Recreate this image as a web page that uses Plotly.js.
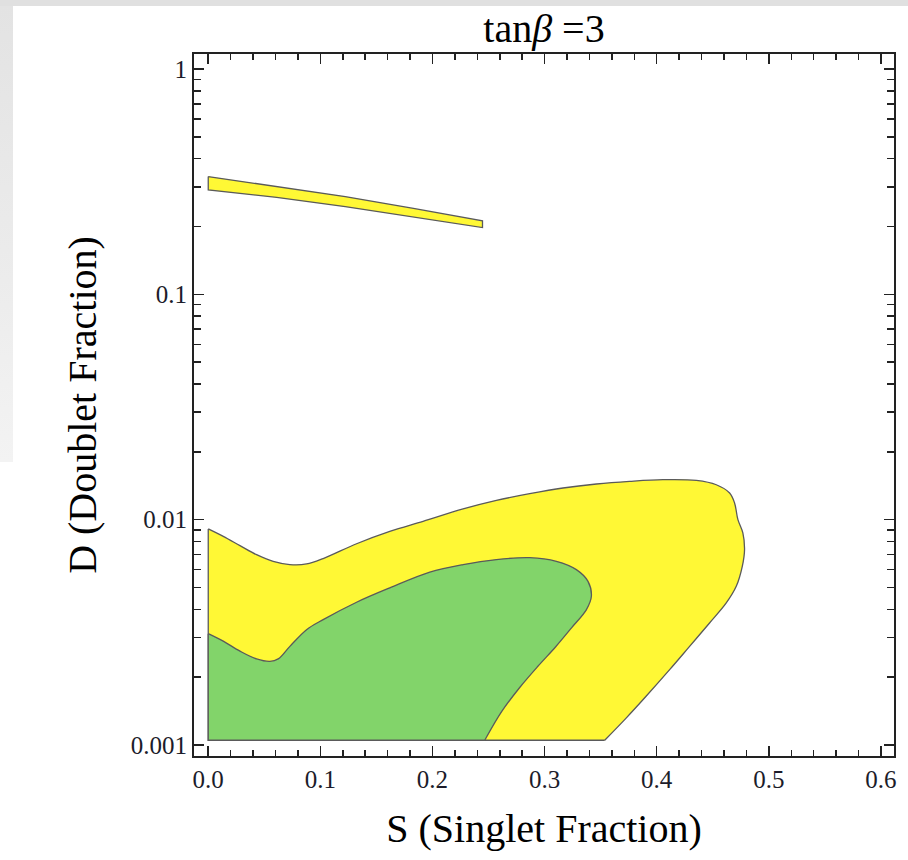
<!DOCTYPE html>
<html>
<head>
<meta charset="utf-8">
<script src="https://cdn.plot.ly/plotly-3.0.1.min.js"></script>
<style>
  html, body { margin: 0; padding: 0; background: #ffffff; }
  #wrap { position: relative; width: 908px; height: 860px; overflow: hidden; }
  #topstrip { position: absolute; left: 0; top: 0; width: 908px; height: 6px; background: #e0e0e0; }
  #leftstrip { position: absolute; left: 0; top: 6px; width: 13px; height: 456px;
               background: linear-gradient(to bottom, #e3e3e3 0%, #ececec 60%, #f3f3f3 100%); }
  #chart { position: absolute; left: 0; top: 0; width: 908px; height: 860px; }
</style>
</head>
<body>
<div id="wrap">
  <div id="topstrip"></div>
  <div id="leftstrip"></div>
  <div id="chart"></div>
</div>
<script>
// ---- data ----
// outer (yellow) allowed region: curved boundary from the S=0 edge round to the D floor
const yellowCurveS = [0, 0.0134, 0.0283, 0.0431, 0.0579, 0.0728, 0.0877, 0.1025, 0.1323, 0.1619, 0.1916, 0.2273, 0.2570, 0.2867, 0.3164, 0.3462, 0.3758, 0.4055, 0.4353, 0.4531, 0.4650, 0.4694, 0.4724, 0.4768, 0.4783, 0.4763, 0.4709, 0.4620, 0.4471, 0.4293, 0.4115, 0.3907, 0.3729, 0.3536];
const yellowCurveD = [0.00910, 0.00843, 0.00767, 0.00699, 0.00653, 0.00632, 0.00636, 0.00672, 0.00782, 0.00887, 0.00983, 0.01116, 0.01218, 0.01304, 0.01382, 0.01440, 0.01479, 0.01505, 0.01494, 0.01429, 0.01313, 0.01186, 0.01000, 0.00873, 0.00736, 0.00621, 0.00506, 0.00427, 0.00348, 0.00274, 0.00216, 0.00165, 0.00132, 0.00105];
// its straight edges: S = 0 side and the D floor
const yellowEdgeS = [0, 0, 0.3536];
const yellowEdgeD = [0.00910, 0.00105, 0.00105];

// inner (green) region
const greenCurveS = [0, 0.0134, 0.0283, 0.0431, 0.0550, 0.0624, 0.0728, 0.0877, 0.1025, 0.1323, 0.1619, 0.1976, 0.2273, 0.2570, 0.2867, 0.3105, 0.3283, 0.3387, 0.3417, 0.3373, 0.3242, 0.3099, 0.2938, 0.2778, 0.2618, 0.2466];
const greenCurveD = [0.00312, 0.00289, 0.00261, 0.00241, 0.00235, 0.00241, 0.00274, 0.00325, 0.00360, 0.00430, 0.00498, 0.00585, 0.00632, 0.00665, 0.00678, 0.00653, 0.00600, 0.00532, 0.00457, 0.00399, 0.00332, 0.00273, 0.00223, 0.00180, 0.00141, 0.00105];
const greenEdgeS = [0, 0, 0.2466];
const greenEdgeD = [0.00312, 0.00105, 0.00105];

// thin yellow band at high D
const bandS = [0, 0.061, 0.1222, 0.183, 0.2446, 0.2446, 0.183, 0.1222, 0.061, 0, 0];
const bandD = [0.333, 0.301, 0.2715, 0.2405, 0.2118, 0.1978, 0.2195, 0.245, 0.2692, 0.2905, 0.333];

const xTickVals = [0, 0.1, 0.2, 0.3, 0.4, 0.5, 0.6];
const xTickText = ['0.0', '0.1', '0.2', '0.3', '0.4', '0.5', '0.6'];
const xMinorVals = [0.02, 0.04, 0.06, 0.08, 0.12, 0.14, 0.16, 0.18, 0.22, 0.24, 0.26, 0.28, 0.32, 0.34, 0.36, 0.38, 0.42, 0.44, 0.46, 0.48, 0.52, 0.54, 0.56, 0.58];
const yTickVals = [0.001, 0.01, 0.1, 1];
const yTickText = ['0.001', '0.01', '0.1', '1'];
const yMinorVals = [0.002, 0.003, 0.004, 0.005, 0.006, 0.007, 0.008, 0.009,
                    0.02, 0.03, 0.04, 0.05, 0.06, 0.07, 0.08, 0.09,
                    0.2, 0.3, 0.4, 0.5, 0.6, 0.7, 0.8, 0.9];

// ---- styles ----
const yellow = '#fff835';
const green = '#82d46a';
const edge = '#5a5a5a';
const serif = 'Liberation Serif, Times New Roman, serif';
const ink = '#1c1c2a';
const lw = 1.3;

function edgeTrace(xs, ys) {
  return { x: xs, y: ys, type: 'scatter', mode: 'lines', line: { color: edge, width: lw },
           hoverinfo: 'skip', showlegend: false };
}
function curveTrace(xs, ys, col) {
  return { x: xs, y: ys, type: 'scatter', mode: 'lines', fill: 'tonexty', fillcolor: col,
           line: { color: edge, width: lw, shape: 'spline', smoothing: 1 },
           hoverinfo: 'skip', showlegend: false };
}

const traces = [
  edgeTrace(yellowEdgeS, yellowEdgeD),
  curveTrace(yellowCurveS, yellowCurveD, yellow),
  edgeTrace(greenEdgeS, greenEdgeD),
  curveTrace(greenCurveS, greenCurveD, green),
  { x: bandS, y: bandD, type: 'scatter', mode: 'lines', fill: 'toself',
    fillcolor: yellow, line: { color: edge, width: lw }, hoverinfo: 'skip', showlegend: false }
];

const layout = {
  width: 908, height: 860,
  margin: { l: 194, r: 14, t: 54, b: 104, pad: 0 },
  paper_bgcolor: 'rgba(0,0,0,0)',
  plot_bgcolor: '#ffffff',
  showlegend: false,
  title: { text: 'tan<i>β</i> =3', font: { family: serif, size: 40, color: '#000' },
           x: 0.5, xref: 'paper', xanchor: 'center', y: 0.967, yref: 'container', yanchor: 'middle' },
  xaxis: {
    range: [-0.0127, 0.6116],
    tickmode: 'array', tickvals: xTickVals, ticktext: xTickText,
    ticks: 'inside', ticklen: 10, tickwidth: 1.5, tickcolor: '#222',
    minor: { tickmode: 'array', tickvals: xMinorVals, ticks: 'inside', ticklen: 6, tickwidth: 1.5, tickcolor: '#222', showgrid: false },
    showline: true, linecolor: '#222', linewidth: 2, mirror: 'allticks',
    showgrid: false, zeroline: false,
    tickfont: { family: serif, size: 25, color: ink },
    title: { text: 'S (Singlet Fraction)', font: { family: serif, size: 40, color: '#000' }, standoff: 22 }
  },
  yaxis: {
    type: 'log',
    range: [-3.0488, 0.0665],
    tickmode: 'array', tickvals: yTickVals, ticktext: yTickText,
    ticks: 'inside', ticklen: 10, tickwidth: 1.5, tickcolor: '#222',
    minor: { tickmode: 'array', tickvals: yMinorVals, ticks: 'inside', ticklen: 7, tickwidth: 1.5, tickcolor: '#222', showgrid: false },
    showline: true, linecolor: '#222', linewidth: 2, mirror: 'allticks',
    showgrid: false, zeroline: false,
    tickfont: { family: serif, size: 25, color: ink },
    title: { text: 'D (Doublet Fraction)', font: { family: serif, size: 40, color: '#000' }, standoff: 22 }
  }
};

Plotly.newPlot('chart', traces, layout, { staticPlot: true, displayModeBar: false });
</script>
</body>
</html>
